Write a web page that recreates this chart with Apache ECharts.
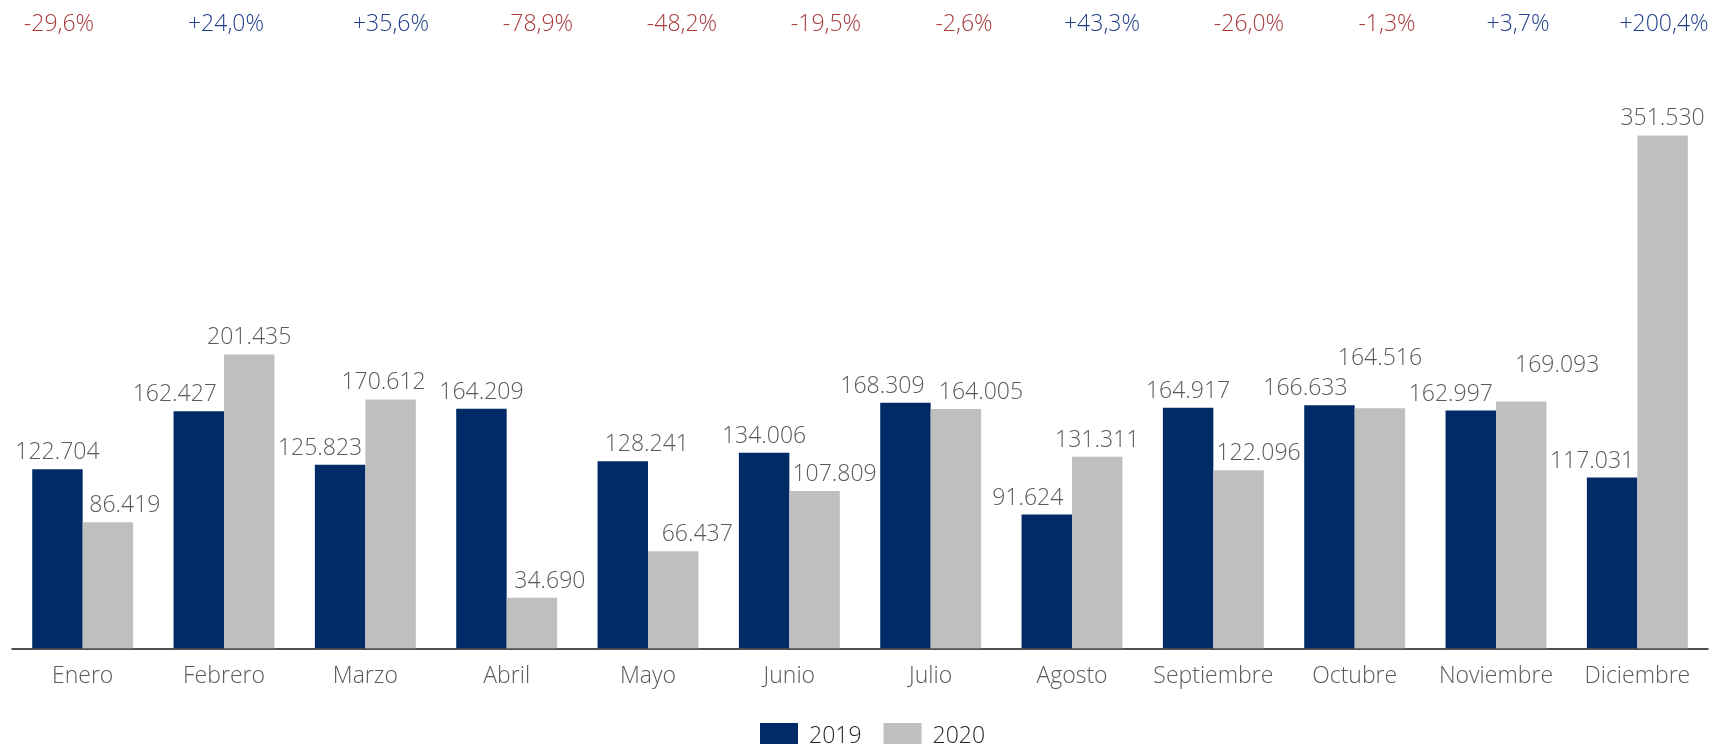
<!DOCTYPE html>
<html>
<head>
<meta charset="utf-8">
<script src="https://cdn.jsdelivr.net/npm/echarts@6/dist/echarts.min.js"></script>
<style>
  html, body { margin: 0; padding: 0; background: #ffffff; }
  #chart { width: 1719px; height: 744px; }
</style>
</head>
<body>
<div id="chart"></div>
<script>
// Monthly figures, 2019 vs 2020
const months = ['Enero', 'Febrero', 'Marzo', 'Abril', 'Mayo', 'Junio', 'Julio',
  'Agosto', 'Septiembre', 'Octubre', 'Noviembre', 'Diciembre'];
const values2019 = [122704, 162427, 125823, 164209, 128241, 134006, 168309,
  91624, 164917, 166633, 162997, 117031];
const values2020 = [86419, 201435, 170612, 34690, 66437, 107809, 164005,
  131311, 122096, 164516, 169093, 351530];
// Year-over-year change, in percent
const changePct = [-29.6, 24.0, 35.6, -78.9, -48.2, -19.5, -2.6, 43.3, -26.0, -1.3, 3.7, 200.4];

// Layout: horizontal centres of the change row, and label nudges [dx, dy]
const changeLabelX = [59, 226, 391, 538, 682, 826, 964, 1102, 1249, 1387, 1518, 1664];
const shift2019 = [[0, 0], [-24, 0], [-20, 0], [0, 0], [24, 0], [0, 0],
  [-23, 0], [-19, 0], [0, 0], [-24, 0], [-20, 0], [-20, 0]];
const shift2020 = [[17, 0], [0, 0], [-7, 0], [18, 0], [24, 0], [20, 0],
  [25, 0], [0, 0], [20, 0], [0, -33], [36, -20], [0, 0]];

const FONT = '"Open Sans", "Noto Sans", sans-serif';
const WEIGHT = 300;
const NAVY = '#002B67';
const GREY = '#BFBFBF';
const LABEL = '#595959';

const fmtThousands = v => String(v).replace(/\B(?=(\d{3})+(?!\d))/g, '.');
const fmtPct = p => (p > 0 ? '+' : '') + p.toFixed(1).replace('.', ',') + '%';

function barData(values, shifts) {
  return values.map((v, i) => ({ value: v, label: { offset: shifts[i] } }));
}

const chart = echarts.init(document.getElementById('chart'), null, { renderer: 'canvas' });

const valueLabel = {
  show: true, position: 'top', distance: 5,
  fontFamily: FONT, fontSize: 23, fontWeight: WEIGHT, color: LABEL,
  formatter: p => fmtThousands(p.value)
};

const option = {
  backgroundColor: '#ffffff',
  animation: false,
  textStyle: { fontFamily: FONT },
  grid: { left: 12, right: 11, top: 64.7, bottom: 95.7, containLabel: false },
  legend: {
    data: ['2019', '2020'],
    left: 755,
    top: 718,
    itemWidth: 38,
    itemHeight: 26,
    itemGap: 22,
    icon: 'rect',
    textStyle: { fontFamily: FONT, fontSize: 23, fontWeight: WEIGHT, color: '#262626', padding: [0, 0, 0, 6] }
  },
  xAxis: {
    type: 'category',
    data: months,
    axisTick: { show: false },
    axisLine: { lineStyle: { color: '#1a1a1a', width: 1.5 } },
    axisLabel: { interval: 0, fontFamily: FONT, fontSize: 23, fontWeight: WEIGHT, color: LABEL, margin: 17 }
  },
  yAxis: {
    type: 'value',
    min: 0,
    max: 400000,
    show: false,
    splitLine: { show: false }
  },
  series: [
    {
      name: '2019',
      type: 'bar',
      data: barData(values2019, shift2019),
      barGap: '0%',
      barCategoryGap: '28.6%',
      itemStyle: { color: NAVY },
      label: valueLabel
    },
    {
      name: '2020',
      type: 'bar',
      data: barData(values2020, shift2020),
      barGap: '0%',
      barCategoryGap: '28.6%',
      itemStyle: { color: GREY },
      label: valueLabel
    }
  ],
  graphic: changePct.map((p, i) => ({
    type: 'text',
    x: changeLabelX[i],
    y: 24,
    style: {
      text: fmtPct(p),
      fontFamily: FONT,
      fontSize: 23,
      fontWeight: WEIGHT,
      fill: p < 0 ? '#A93A3C' : '#1F3D8A',
      textAlign: 'center',
      textVerticalAlign: 'middle'
    }
  }))
};

chart.setOption(option);
</script>
</body>
</html>
